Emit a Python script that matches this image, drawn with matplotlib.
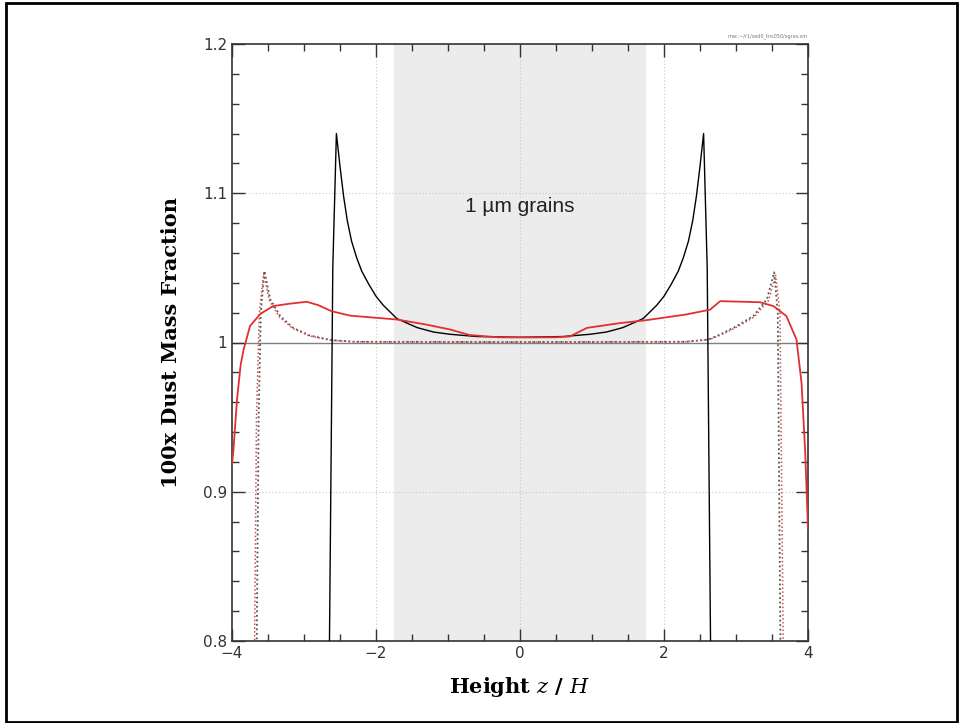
import matplotlib
matplotlib.use("Agg")
import matplotlib.pyplot as plt
from matplotlib.patches import Rectangle

plt.rcParams["mathtext.fontset"] = "dejavuserif"

# ---- data ----
black_x = [-2.65, -2.60, -2.55, -2.50, -2.45, -2.40, -2.34, -2.27, -2.20, -2.10, -2.00, -1.90, -1.71,
           -1.43, -1.20, -0.97, -0.60, 0.0, 0.60, 0.97, 1.20, 1.43, 1.71, 1.90, 2.00, 2.10, 2.20,
           2.27, 2.34, 2.40, 2.45, 2.50, 2.55, 2.60, 2.65]
black_y = [0.78, 1.05, 1.140, 1.118, 1.098, 1.082, 1.068, 1.057, 1.048, 1.039, 1.031, 1.025, 1.016,
           1.010, 1.007, 1.0055, 1.004, 1.0035, 1.004, 1.0055, 1.007, 1.010, 1.016, 1.025, 1.031, 1.039,
           1.048, 1.057, 1.068, 1.082, 1.098, 1.118, 1.140, 1.05, 0.78]

red_x = [-4.00, -3.98, -3.93, -3.88, -3.84, -3.75, -3.61, -3.43, -3.20, -2.96, -2.80, -2.62,
         -2.36, -1.71, -1.30, -0.97, -0.70, -0.30, 0.0, 0.50, 0.69, 0.93, 1.39, 1.76, 2.31,
         2.64, 2.78, 3.33, 3.52, 3.70, 3.84, 3.91, 3.96, 4.00]
red_y = [0.918, 0.928, 0.962, 0.985, 0.995, 1.011, 1.019, 1.0244, 1.026, 1.0273, 1.025, 1.021,
         1.018, 1.0154, 1.012, 1.0087, 1.005, 1.0035, 1.0034, 1.0035, 1.004, 1.0098, 1.013, 1.015, 1.0188,
         1.022, 1.0277, 1.027, 1.0244, 1.0177, 1.002, 0.973, 0.928, 0.875]

dot_x = [-3.66, -3.63, -3.60, -3.55, -3.47, -3.33, -3.15, -2.92, -2.62, -2.30, 0.0,
         2.30, 2.62, 2.78, 3.01, 3.24, 3.43, 3.53, 3.58, 3.62]
dot_y = [0.78, 0.95, 1.02, 1.048, 1.029, 1.0177, 1.0098, 1.0047, 1.0016, 1.0005, 1.0003,
         1.0005, 1.002, 1.0054, 1.011, 1.0177, 1.029, 1.047, 1.02, 0.78]

rdot_x = [-3.69, -3.66, -3.62, -3.56, -3.48, -3.34, -3.16, -2.93, -2.63, -2.30, 0.0,
          2.30, 2.63, 2.79, 3.02, 3.25, 3.45, 3.55, 3.61, 3.66]
rdot_y = [0.78, 0.95, 1.02, 1.046, 1.028, 1.017, 1.0095, 1.0045, 1.0015, 1.0005, 1.0003,
          1.0005, 1.002, 1.005, 1.0105, 1.017, 1.028, 1.045, 1.02, 0.78]

shade_lo, shade_hi = -1.75, 1.75
xticks = [-4, -2, 0, 2, 4]
yticks = [0.8, 0.9, 1.0, 1.1, 1.2]
ytick_labels = ["0.8", "0.9", "1", "1.1", "1.2"]

fig = plt.figure(figsize=(9.6, 7.23), dpi=100)
ax = fig.add_axes([232/960, 1 - 641/723, (808-232)/960, (641-44)/723])

ax.axvspan(shade_lo, shade_hi, color="#ececec", lw=0, zorder=0)
for gx in [-2, 0, 2]:
    ax.axvline(gx, color="#c8c8c8", lw=0.8, ls=(0, (1, 2)), zorder=1)
for gy in [0.9, 1.1]:
    ax.axhline(gy, color="#c8c8c8", lw=0.8, ls=(0, (1, 2)), zorder=1)
ax.axhline(1.0, color="#808080", lw=1.0, zorder=1)

ax.plot(dot_x, dot_y, color="#555555", lw=1.3, ls=(0, (1, 1.5)), zorder=2)
ax.plot(rdot_x, rdot_y, color="#d05050", lw=1.1, ls=(0, (1, 1.5)), zorder=2)
ax.plot(black_x, black_y, color="black", lw=1.0, zorder=3)
ax.plot(red_x, red_y, color="#e03030", lw=1.3, zorder=4)

ax.set_xlim(-4, 4)
ax.set_ylim(0.8, 1.2)
ax.set_xticks(xticks)
ax.set_xticklabels(["\u22124", "\u22122", "0", "2", "4"])
ax.set_yticks(yticks)
ax.set_yticklabels(ytick_labels)
ax.set_xticks([v / 2 for v in range(-8, 9)], minor=True)
ax.set_yticks([0.8 + 0.02 * i for i in range(21)], minor=True)
ax.tick_params(which="both", direction="in", top=True, right=True, colors="#333333",
               labelcolor="#333333", labelsize=11)
ax.tick_params(which="major", length=9, width=1.0)
ax.tick_params(which="minor", length=5, width=1.0)
for s in ax.spines.values():
    s.set_color("#333333")
    s.set_linewidth(1.2)

ax.set_xlabel(r"Height $z$ / $H$", fontsize=15, fontweight="bold", family="DejaVu Serif",
              labelpad=10)
ax.set_ylabel("100x Dust Mass Fraction", fontsize=15, fontweight="bold", family="DejaVu Serif",
              labelpad=16)

ax.text(0, 1.091, "1 \u00b5m grains", ha="center", va="center", fontsize=15,
        family="Liberation Sans", color="#222222")
fig.text(808/960, 1 - 36/723, "mac:~/r1/sed0_tns050/xgrav.sm", ha="right", va="center",
         fontsize=3.5, color="#777777")

fig.patches.append(Rectangle((6/960, 1.5/723), 951/960, 719/723, transform=fig.transFigure,
                             fill=False, edgecolor="black", lw=2))

fig.savefig("out.png", dpi=100)
